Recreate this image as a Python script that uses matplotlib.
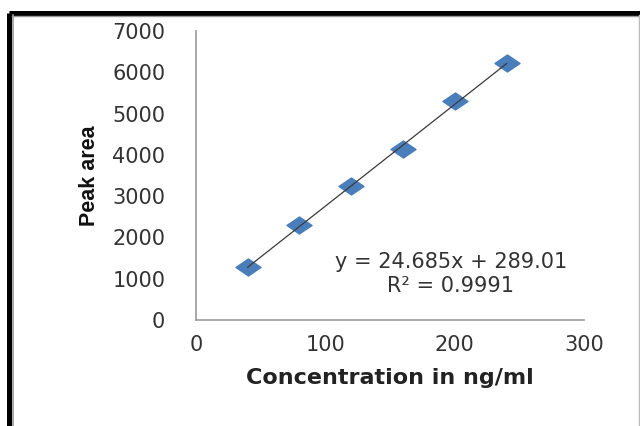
import numpy as np
import matplotlib.pyplot as plt
from matplotlib.path import Path
from matplotlib.lines import Line2D

# calibration data
concentration = [40, 80, 120, 160, 200, 240]
peak_area = [1290, 2310, 3240, 4150, 5300, 6230]

slope = 24.685
intercept = 289.01
r_squared = 0.9991

x_ticks = [0, 100, 200, 300]
y_ticks = [0, 1000, 2000, 3000, 4000, 5000, 6000, 7000]

fig = plt.figure(figsize=(6.4, 4.26), dpi=100)
ax = fig.add_axes([0.306, 0.249, 0.607, 0.678])

# flattened diamond like the Excel marker
diamond = Path([(-1, 0), (0, 0.68), (1, 0), (0, -0.68), (-1, 0)],
               [Path.MOVETO, Path.LINETO, Path.LINETO, Path.LINETO, Path.CLOSEPOLY])

fit_x = np.array([concentration[0], concentration[-1]])
ax.plot(concentration, peak_area, linestyle='none', marker=diamond,
        markersize=18, color='#4a7ebb', zorder=3)
ax.plot(fit_x, slope * fit_x + intercept, color='#3a3a3a', lw=0.9, zorder=4)

ax.set_xlim(0, 300)
ax.set_ylim(0, 7000)
ax.set_xticks(x_ticks)
ax.set_yticks(y_ticks)
ax.tick_params(length=0, labelsize=15, colors='#333333')
ax.tick_params(axis='y', pad=22)
ax.tick_params(axis='x', pad=11)

for side in ('top', 'right'):
    ax.spines[side].set_visible(False)
for side in ('left', 'bottom'):
    ax.spines[side].set_color('#9a9a9a')
    ax.spines[side].set_linewidth(1.2)

ax.set_xlabel('Concentration in ng/ml', fontsize=16, fontweight='bold',
              color='#222222', labelpad=9)
ax.set_ylabel('Peak area', fontsize=15.5, fontweight='bold', color='#111111',
              family=['Liberation Sans', 'DejaVu Sans'], labelpad=9)

ax.text(197, 1400, f'y = {slope}x + {intercept}', fontsize=15,
        ha='center', va='center', color='#333333')
ax.text(197, 830, f'R\u00b2 = {r_squared}', fontsize=15,
        ha='center', va='center', color='#333333')

# outer frame: thick black top/left, thin gray inner and right edges
top = 1 - 12.5 / 426
left = 8.5 / 640
fig.add_artist(Line2D([left, 1], [top, top], color='black', lw=3.6,
                      solid_capstyle='butt', transform=fig.transFigure))
fig.add_artist(Line2D([left, left], [0, top], color='black', lw=3.6,
                      solid_capstyle='butt', transform=fig.transFigure))
fig.add_artist(Line2D([12.5 / 640, 12.5 / 640], [0, 1 - 15 / 426],
                      color='#999999', lw=1.2, transform=fig.transFigure))
fig.add_artist(Line2D([12 / 640, 1], [1 - 15.5 / 426, 1 - 15.5 / 426],
                      color='#999999', lw=1.0, transform=fig.transFigure))
fig.add_artist(Line2D([638.5 / 640, 638.5 / 640], [0, 1 - 15 / 426],
                      color='#bbbbbb', lw=1.0, transform=fig.transFigure))

fig.savefig('out.png', dpi=100)
